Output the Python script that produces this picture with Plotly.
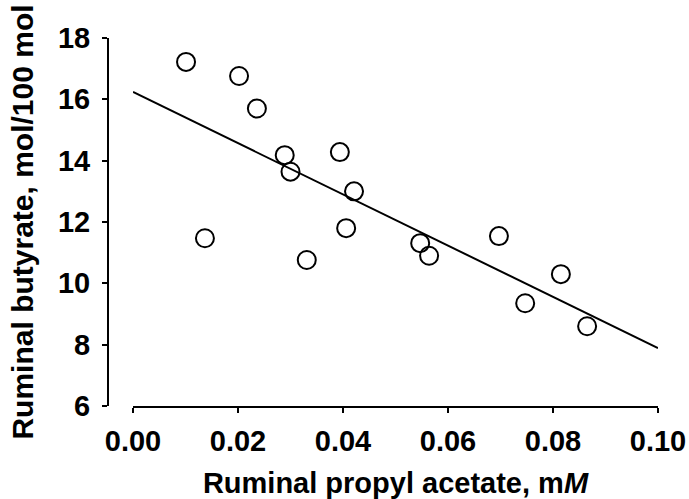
import plotly.graph_objects as go

# Data
propyl_acetate = [0.0101, 0.0137, 0.0202, 0.0236, 0.0289, 0.0300, 0.0331, 0.0394,
                  0.0406, 0.0421, 0.0547, 0.0564, 0.0697, 0.0747, 0.0815, 0.0865]
butyrate = [17.22, 11.47, 16.76, 15.70, 14.18, 13.64, 10.76, 14.28,
            11.80, 13.00, 11.31, 10.90, 11.54, 9.35, 10.30, 8.60]

fit_x = [0.0, 0.10]
fit_y = [16.24, 7.89]

x_ticks = [0.00, 0.02, 0.04, 0.06, 0.08, 0.10]
y_ticks = [6, 8, 10, 12, 14, 16, 18]

font_family = "Liberation Sans, Arial, sans-serif"

fig = go.Figure()
fig.add_trace(go.Scatter(
    x=fit_x, y=fit_y, mode="lines",
    line=dict(color="black", width=2),
    showlegend=False, hoverinfo="skip",
))
fig.add_trace(go.Scatter(
    x=propyl_acetate, y=butyrate, mode="markers",
    marker=dict(symbol="circle-open", size=18, color="black",
                line=dict(width=2, color="black")),
    showlegend=False,
))

axis_common = dict(
    showline=True, linecolor="black", linewidth=2,
    ticks="outside", ticklen=5, tickwidth=2, tickcolor="black",
    showgrid=False, zeroline=False, automargin=False,
    tickfont=dict(family=font_family, size=29, color="black", weight="bold"),
)

fig.update_layout(
    width=689, height=499,
    margin=dict(l=108, r=31, t=38, b=93, autoexpand=False),
    paper_bgcolor="white", plot_bgcolor="white",
    xaxis=dict(
        domain=[25 / 550, 1],
        range=[0, 0.10],
        tickvals=x_ticks,
        ticktext=[f"{v:.2f}" for v in x_ticks],
        ticklabelstandoff=3,
        title=dict(text="Ruminal propyl acetate, m<i>M</i>", standoff=20,
                   font=dict(family=font_family, size=29, color="black", weight="bold")),
        **axis_common,
    ),
    yaxis=dict(
        anchor="free", position=0,
        range=[6, 18],
        tickvals=y_ticks,
        ticklabelstandoff=6,
        title=dict(text="Ruminal butyrate, mol/100 mol", standoff=14,
                   font=dict(family=font_family, size=30, color="black", weight="bold")),
        **axis_common,
    ),
)

fig.write_html(
    "out.html",
    config={"displayModeBar": False},
    post_script="document.body.style.margin='0';document.body.style.overflow='hidden';",
)
